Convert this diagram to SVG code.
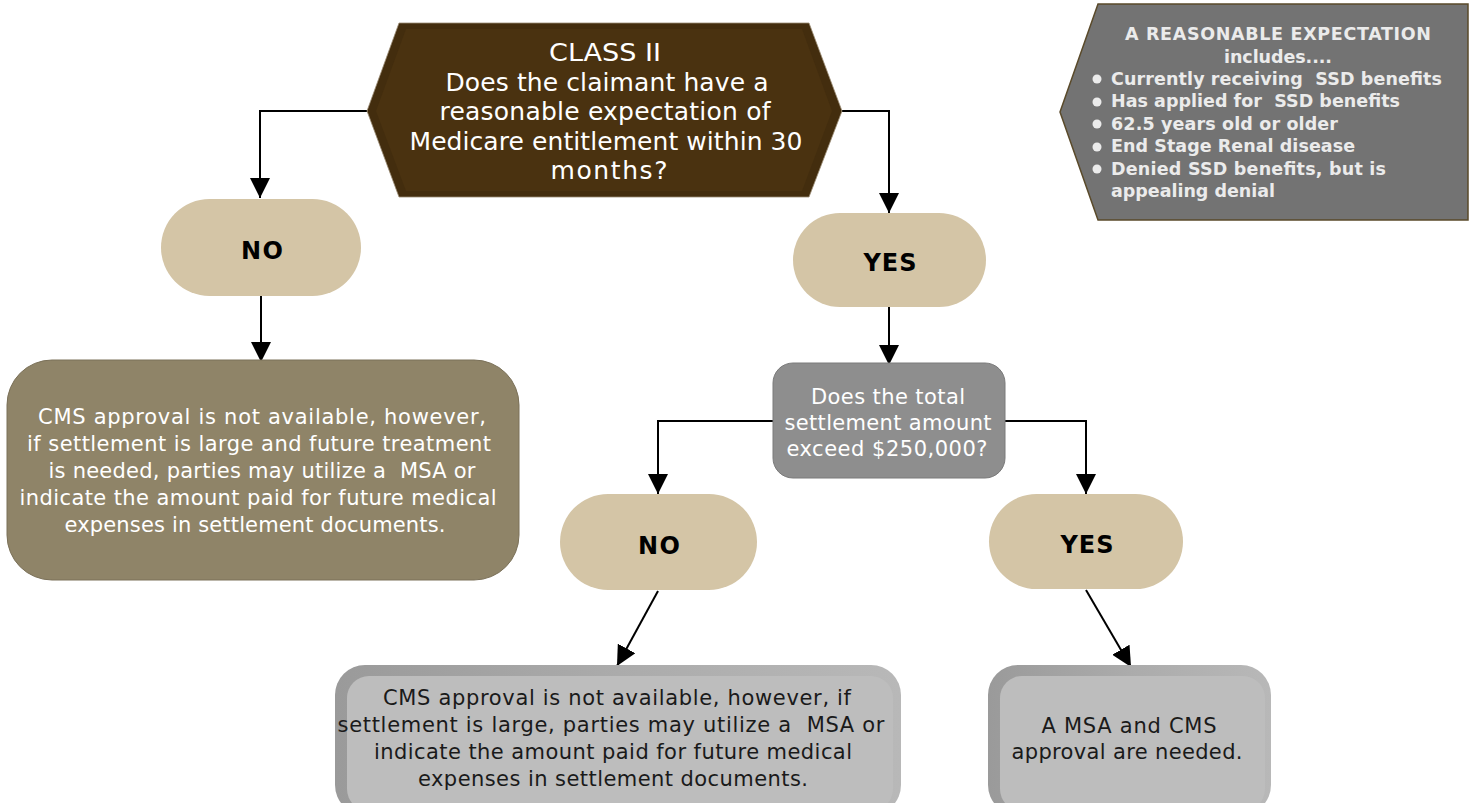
<svg xmlns="http://www.w3.org/2000/svg" width="1475" height="803" viewBox="0 0 1475 803">
<style>
text{font-family:"DejaVu Sans","Verdana",sans-serif}
.t{text-anchor:middle}
.w{fill:#ffffff}
.d{fill:#1a1a1a}
.h{font-size:25px}
.m{font-size:21px}
.pill{fill:#d4c5a6}
.pt{font-weight:bold;font-size:24px;fill:#000;text-anchor:middle}
.c{fill:none;stroke:#000;stroke-width:2}
.cl{font-weight:bold;font-size:17.5px;fill:#ebebeb}
</style>
<defs>
<marker id="ah" markerUnits="userSpaceOnUse" markerWidth="22" markerHeight="20" refX="20" refY="10" orient="auto">
<path d="M0,0 L20,10 L0,20 Z" fill="#000"/>
</marker>
<linearGradient id="bev" x1="0" y1="0" x2="1" y2="0">
<stop offset="0" stop-color="#9a9a9a"/>
<stop offset="0.5" stop-color="#ababab"/>
<stop offset="1" stop-color="#b8b8b8"/>
</linearGradient>
</defs>
<rect width="1475" height="803" fill="#ffffff"/>

<g id="connectors">
<path class="c" d="M367,111 H260 V198" marker-end="url(#ah)"/>
<path class="c" d="M842,111 H889 V213" marker-end="url(#ah)"/>
<path class="c" d="M261,296 V362" marker-end="url(#ah)"/>
<path class="c" d="M889,307 V365" marker-end="url(#ah)"/>
<path class="c" d="M773,421 H658 V494" marker-end="url(#ah)"/>
<path class="c" d="M1005,421 H1086 V494" marker-end="url(#ah)"/>
<path class="c" d="M658,591 L617,666" marker-end="url(#ah)"/>
<path class="c" d="M1086,590 L1131,667" marker-end="url(#ah)"/>
</g>

<g id="class2">
<polygon points="399,23 809,23 842,111 809,197 399,197 367,111" fill="#432d0e" stroke="#9a8c74" stroke-width="0.8"/>
<polygon points="406,29 802,29 832,111 802,191 406,191 376,111" fill="#4a3210"/>
<text class="t w h" x="605" y="61" textLength="112" lengthAdjust="spacingAndGlyphs">CLASS II</text>
<text class="t w h" x="607" y="91" textLength="323">Does the claimant have a</text>
<text class="t w h" x="605" y="120" textLength="331">reasonable expectation of</text>
<text class="t w h" x="606" y="150" textLength="393">Medicare entitlement within 30</text>
<text class="t w h" x="609" y="179" textLength="117">months?</text>
</g>

<g id="callout">
<polygon points="1098,4 1468,4 1468,220 1098,220 1060,112" fill="#737373" stroke="#5a4a2a" stroke-width="1.5"/>
<text class="cl t" x="1278" y="40" textLength="306">A REASONABLE  EXPECTATION</text>
<text class="cl t" x="1278" y="63" textLength="108">includes....</text>
<g fill="#ebebeb">
<circle cx="1097" cy="79" r="4.5"/><circle cx="1097" cy="102" r="4.5"/><circle cx="1097" cy="124" r="4.5"/><circle cx="1097" cy="147" r="4.5"/><circle cx="1097" cy="169" r="4.5"/>
</g>
<text class="cl" x="1111" y="85" textLength="331">Currently receiving &#160;SSD benefits</text>
<text class="cl" x="1111" y="107" textLength="289">Has applied for &#160;SSD benefits</text>
<text class="cl" x="1111" y="130" textLength="227">62.5 years old or older</text>
<text class="cl" x="1111" y="152" textLength="244">End Stage Renal disease</text>
<text class="cl" x="1111" y="175" textLength="275">Denied SSD benefits, but is</text>
<text class="cl" x="1111" y="197" textLength="164">appealing denial</text>
</g>

<g id="no1">
<rect class="pill" x="161" y="199" width="200" height="97" rx="48.5"/>
<text class="pt" x="262" y="259" textLength="42">NO</text>
</g>

<g id="yes1">
<rect class="pill" x="793" y="213" width="193" height="94" rx="47"/>
<text class="pt" x="890" y="271" textLength="53">YES</text>
</g>

<g id="left-result">
<rect x="7" y="360" width="512" height="220" rx="45" fill="#8f8468" stroke="#7a7058" stroke-width="1"/>
<text class="t w m" x="262" y="424" textLength="448">CMS approval is not available, however,</text>
<text class="t w m" x="259" y="451" textLength="464">if settlement is large and future treatment</text>
<text class="t w m" x="262" y="478" textLength="427">is needed, parties may utilize a &#160;MSA or</text>
<text class="t w m" x="258" y="505" textLength="477">indicate the amount paid for future medical</text>
<text class="t w m" x="255" y="532" textLength="381">expenses in settlement documents.</text>
</g>

<g id="amount">
<rect x="773" y="363" width="232" height="115" rx="20" fill="#8e8e8e" stroke="#7a7a7a" stroke-width="1"/>
<text class="t w m" x="888" y="404" textLength="154">Does the total</text>
<text class="t w m" x="888" y="430" textLength="207">settlement amount</text>
<text class="t w m" x="887" y="456" textLength="201">exceed $250,000?</text>
</g>

<g id="no2">
<rect class="pill" x="560" y="494" width="197" height="96" rx="48"/>
<text class="pt" x="659" y="554" textLength="42">NO</text>
</g>

<g id="yes2">
<rect class="pill" x="989" y="494" width="194" height="95" rx="47.5"/>
<text class="pt" x="1087" y="553" textLength="53">YES</text>
</g>

<g id="bottom-left">
<rect x="335" y="665" width="566" height="150" rx="30" fill="url(#bev)"/>
<rect x="347" y="676" width="546" height="135" rx="22" fill="#bdbdbd"/>
<text class="t d m" x="617" y="705" textLength="468">CMS approval is not available, however, if</text>
<text class="t d m" x="611" y="732" textLength="547">settlement is large, parties may utilize a &#160;MSA or</text>
<text class="t d m" x="613" y="759" textLength="478">indicate the amount paid for future medical</text>
<text class="t d m" x="613" y="786" textLength="390">expenses in settlement documents.</text>
</g>

<g id="bottom-right">
<rect x="988" y="665" width="283" height="150" rx="30" fill="url(#bev)"/>
<rect x="1000" y="676" width="265" height="135" rx="22" fill="#bdbdbd"/>
<text class="t d m" x="1129" y="733" textLength="175">A MSA and CMS</text>
<text class="t d m" x="1127" y="759" textLength="231">approval are needed.</text>
</g>
</svg>
